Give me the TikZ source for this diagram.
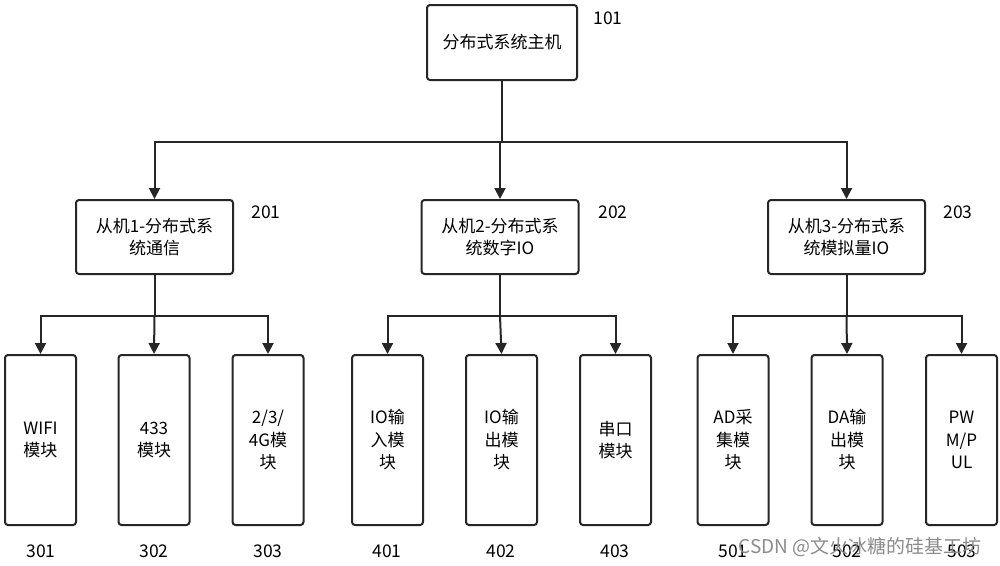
\documentclass[tikz,border=0pt]{standalone}
\usepackage{fontspec}
\setmainfont{Noto Sans CJK SC}
\usetikzlibrary{arrows.meta}
\begin{document}
\begin{tikzpicture}[x=1pt,y=-1pt,
  box/.style={draw=black!85,line width=2pt,rounded corners=3pt,inner sep=0pt,align=center,
    font=\fontsize{17}{22.5}\selectfont,fill=white},
  topbox/.style={box,minimum width=150pt,minimum height=75pt},
  midbox/.style={box,minimum width=157pt,minimum height=74pt},
  lowbox/.style={box,minimum width=71pt,minimum height=170pt},
  num/.style={font=\fontsize{17.5}{20}\selectfont,inner sep=0pt},
  conn/.style={draw=black!85,line width=2pt},
  arr/.style={conn,-{Triangle[length=11pt,width=11pt]}}]
\useasboundingbox[fill=white] (0,0) rectangle (1000,565);
% top
\node[topbox] (t) at (502,42.5) {分布式系统主机};
\node[num] (n101) at (608,18) {101};
% middle
\node[midbox] (m1) at (154.5,237) {从机1-分布式系\\统通信};
\node[midbox] (m2) at (500,237) {从机2-分布式系\\统数字IO};
\node[midbox] (m3) at (846.5,237) {从机3-分布式系\\统模拟量IO};
\node[num] (n201) at (266,212) {201};
\node[num] (n202) at (613,212) {202};
\node[num] (n203) at (958,212) {203};
% bottom
\node[lowbox] (a1) at (40.5,440) {WIFI\\模块};
\node[lowbox] (a2) at (154,440) {433\\模块};
\node[lowbox] (a3) at (268,440) {2/3/\\4G模\\块};
\node[lowbox] (b1) at (387.5,440) {IO输\\入模\\块};
\node[lowbox] (b2) at (501.5,440) {IO输\\出模\\块};
\node[lowbox] (b3) at (615.5,440) {串口\\模块};
\node[lowbox] (c1) at (733,440) {AD采\\集模\\块};
\node[lowbox] (c2) at (847,440) {DA输\\出模\\块};
\node[lowbox] (c3) at (961.5,440) {PW\\M/P\\UL};
\node[num] (n301) at (41,551) {301};
\node[num] (n302) at (154,551) {302};
\node[num] (n303) at (268,551) {303};
\node[num] (n401) at (387,551) {401};
\node[num] (n402) at (501,551) {402};
\node[num] (n403) at (615,551) {403};
\node[num] (n501) at (733,551) {501};
\node[num] (n502) at (847,551) {502};
\node[num] (n503) at (962,551) {503};
% connectors
\coordinate (j0) at (502,142);
\draw[conn] (t.south) -- (j0);
\draw[arr] (j0) -| (m1.north);
\draw[arr] (j0) -| (m2.north);
\draw[arr] (j0) -| (m3.north);
\coordinate (j1) at (154.5,316);
\coordinate (j2) at (500,316);
\coordinate (j3) at (846.5,316);
\draw[conn] (m1.south) -- (j1);
\draw[conn] (m2.south) -- (j2);
\draw[conn] (m3.south) -- (j3);
\draw[arr] (j1) -| (a1.north);
\draw[arr] (j1) -- (a2.north);
\draw[arr] (j1) -| (a3.north);
\draw[arr] (j2) -| (b1.north);
\draw[arr] (j2) -- (b2.north);
\draw[arr] (j2) -| (b3.north);
\draw[arr] (j3) -| (c1.north);
\draw[arr] (j3) -- (c2.north);
\draw[arr] (j3) -| (c3.north);
% watermark
\node[font=\fontsize{19}{22}\selectfont,text=black!45,inner sep=0pt] (wm) at (860,547) {CSDN @文火冰糖的硅基工坊};
\end{tikzpicture}
\end{document}
